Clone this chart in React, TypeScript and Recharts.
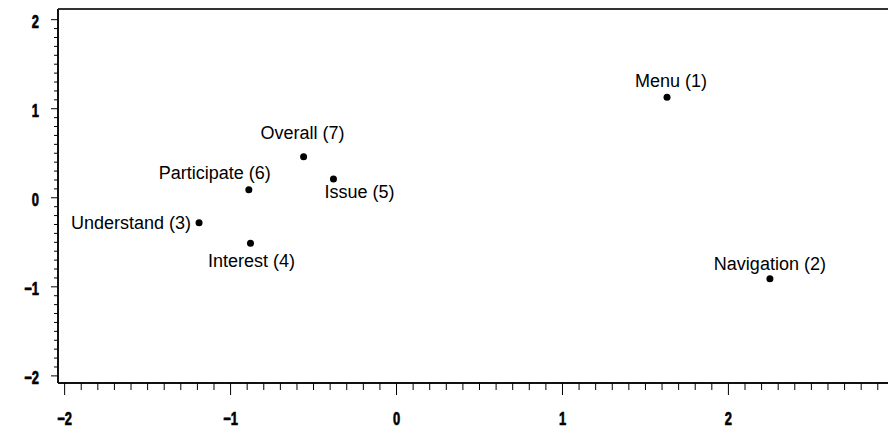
import { ScatterChart, Scatter, XAxis, YAxis, ReferenceLine } from 'recharts'

// correspondence map, item coordinates on the two dimensions
const itemNames = [
	'Menu (1)',
	'Navigation (2)',
	'Understand (3)',
	'Interest (4)',
	'Issue (5)',
	'Participate (6)',
	'Overall (7)',
]
const dim1 = [1.63, 2.25, -1.19, -0.88, -0.38, -0.89, -0.56]
const dim2 = [1.13, -0.91, -0.28, -0.51, 0.21, 0.09, 0.46]

const xMajor = [-2, -1, 0, 1, 2, 3]
const yMajor = [-2, -1, 0, 1, 2]

const X_DOMAIN: [number, number] = [-2.04, 3.04]
const Y_DOMAIN: [number, number] = [-2.08, 2.12]

// minor ticks every 0.1 between the major ones
const withMinor = (major: number[]) => {
	const out: number[] = []
	for (let i = major[0] * 10; i <= major[major.length - 1] * 10; i++) out.push(i / 10)
	return out
}
const xTicks = withMinor(xMajor)
const yTicks = withMinor(yMajor)

const data = itemNames.map((name, i) => ({ name, x: dim1[i], y: dim2[i] }))

// where each label sits around its point
const labelPos: Record<string, { anchor: 'start' | 'middle' | 'end'; dx: number; dy: number }> = {
	'Menu (1)': { anchor: 'middle', dx: 4, dy: -16 },
	'Navigation (2)': { anchor: 'middle', dx: 0, dy: -15 },
	'Understand (3)': { anchor: 'end', dx: -8, dy: 0 },
	'Interest (4)': { anchor: 'middle', dx: 1, dy: 18 },
	'Issue (5)': { anchor: 'middle', dx: 26, dy: 13 },
	'Participate (6)': { anchor: 'middle', dx: -34, dy: -17 },
	'Overall (7)': { anchor: 'middle', dx: -1, dy: -24 },
}

const tickFont = "'Liberation Sans', Arial, sans-serif"
const labelFont = "'Liberation Sans', Arial, sans-serif"

const isMajor = (v: number) => Math.abs(v - Math.round(v)) < 1e-6
const fmt = (v: number) => {
	const n = Math.round(v)
	return n < 0 ? '\u2212' + Math.abs(n) : String(n)
}

// narrow heavy digits, like the original bitmap font
const TickText = ({ x, y, anchor, value }: { x: number; y: number; anchor: 'middle' | 'end'; value: number }) => (
	<text
		transform={`translate(${x},${y}) scale(0.68,1)`}
		textAnchor={anchor}
		fontFamily={tickFont}
		fontWeight="bold"
		fontSize={19}
		fill="#000"
		stroke="#000"
		strokeWidth={0.7}
	>
		{fmt(value)}
	</text>
)

const XTick = (props: any) => {
	const { x, y, payload } = props
	const major = isMajor(payload.value)
	return (
		<g>
			<line x1={x} x2={x} y1={y} y2={y + (major ? 12 : 7)} stroke="#000" strokeWidth={1} />
			{major && <TickText x={x} y={y + 42} anchor="middle" value={payload.value} />}
		</g>
	)
}

const YTick = (props: any) => {
	const { x, y, payload } = props
	const major = isMajor(payload.value)
	return (
		<g>
			<line x1={x} x2={x - (major ? 7 : 4)} y1={y} y2={y} stroke="#000" strokeWidth={1} />
			{major && <TickText x={x - 19} y={y + 8} anchor="end" value={payload.value} />}
		</g>
	)
}

const PointWithLabel = (props: any) => {
	const { cx, cy, payload } = props
	const pos = labelPos[payload.name] || { anchor: 'middle', dx: 0, dy: -16 }
	return (
		<g>
			<circle cx={cx} cy={cy} r={3.5} fill="#000" />
			<text
				x={cx + pos.dx}
				y={cy + pos.dy + 6}
				textAnchor={pos.anchor}
				fontFamily={labelFont}
				fontSize={18}
				fill="#000"
			>
				{payload.name}
			</text>
		</g>
	)
}

export default function App() {
	return (
		<div style={{ width: 888, height: 423, overflow: 'hidden', background: '#fff' }}>
			<ScatterChart width={960} height={423} margin={{ top: 1, right: 67, bottom: 0, left: 0 }}>
				<XAxis
					type="number"
					dataKey="x"
					domain={X_DOMAIN}
					ticks={xTicks}
					interval={0}
					height={48}
					tickSize={0}
					tickMargin={0}
					tickLine={false}
					tick={<XTick />}
					axisLine={{ stroke: '#111', strokeWidth: 2 }}
				/>
				<YAxis
					type="number"
					dataKey="y"
					domain={Y_DOMAIN}
					ticks={yTicks}
					interval={0}
					width={50}
					tickSize={0}
					tickMargin={0}
					tickLine={false}
					tick={<YTick />}
					axisLine={{ stroke: '#111', strokeWidth: 2 }}
				/>
				<ReferenceLine y={Y_DOMAIN[1]} stroke="#333" strokeWidth={2} />
				<Scatter data={data} fill="#000" shape={<PointWithLabel />} isAnimationActive={false} />
			</ScatterChart>
		</div>
	)
}
